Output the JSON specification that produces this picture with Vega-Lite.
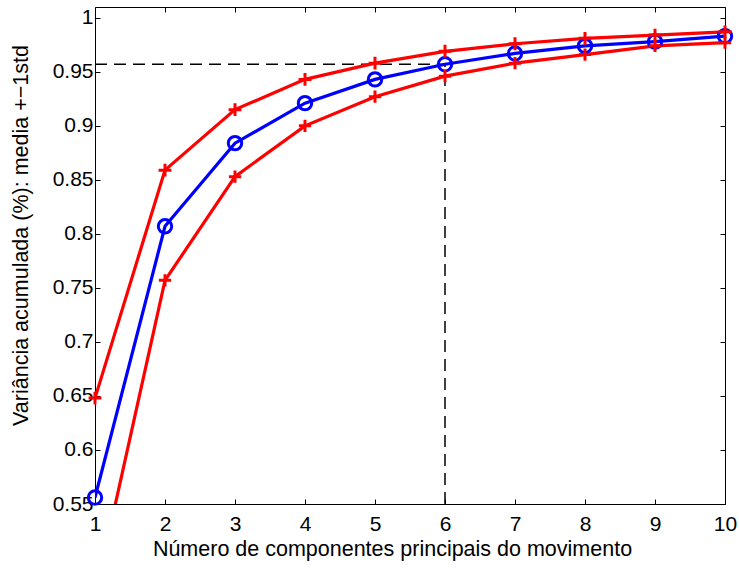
{
  "$schema": "https://vega.github.io/schema/vega-lite/v6.json",
  "width": 630,
  "height": 497,
  "autosize": {"type": "none"},
  "padding": {"left": 95, "top": 7, "right": 14, "bottom": 64},
  "background": "white",
  "config": {
    "font": "Liberation Sans",
    "view": {"stroke": "black", "strokeWidth": 1},
    "axis": {
      "grid": false,
      "domain": false,
      "ticks": true,
      "tickSize": -5,
      "tickColor": "black",
      "tickWidth": 1,
      "labelFont": "Liberation Sans",
      "labelFontSize": 21,
      "labelColor": "black",
      "titleFont": "Liberation Sans",
      "titleFontSize": 21.5,
      "titleFontWeight": "normal",
      "titleColor": "black"
    }
  },
  "datasets": {
    "curvas": [
      {"k": 1, "serie": "media", "valor": 0.556},
      {"k": 2, "serie": "media", "valor": 0.807},
      {"k": 3, "serie": "media", "valor": 0.884},
      {"k": 4, "serie": "media", "valor": 0.921},
      {"k": 5, "serie": "media", "valor": 0.943},
      {"k": 6, "serie": "media", "valor": 0.957},
      {"k": 7, "serie": "media", "valor": 0.967},
      {"k": 8, "serie": "media", "valor": 0.974},
      {"k": 9, "serie": "media", "valor": 0.978},
      {"k": 10, "serie": "media", "valor": 0.983},
      {"k": 1, "serie": "media+std", "valor": 0.648},
      {"k": 2, "serie": "media+std", "valor": 0.859},
      {"k": 3, "serie": "media+std", "valor": 0.915},
      {"k": 4, "serie": "media+std", "valor": 0.943},
      {"k": 5, "serie": "media+std", "valor": 0.958},
      {"k": 6, "serie": "media+std", "valor": 0.969},
      {"k": 7, "serie": "media+std", "valor": 0.976},
      {"k": 8, "serie": "media+std", "valor": 0.981},
      {"k": 9, "serie": "media+std", "valor": 0.984},
      {"k": 10, "serie": "media+std", "valor": 0.987},
      {"k": 1, "serie": "media-std", "valor": 0.465},
      {"k": 2, "serie": "media-std", "valor": 0.757},
      {"k": 3, "serie": "media-std", "valor": 0.853},
      {"k": 4, "serie": "media-std", "valor": 0.900},
      {"k": 5, "serie": "media-std", "valor": 0.927},
      {"k": 6, "serie": "media-std", "valor": 0.946},
      {"k": 7, "serie": "media-std", "valor": 0.958},
      {"k": 8, "serie": "media-std", "valor": 0.966},
      {"k": 9, "serie": "media-std", "valor": 0.974},
      {"k": 10, "serie": "media-std", "valor": 0.977}
    ],
    "guias": [
      {"x0": 1, "x1": 6, "y0": 0.957, "y1": 0.957},
      {"x0": 6, "x1": 6, "y0": 0.55, "y1": 0.957}
    ]
  },
  "resolve": {"axis": {"x": "independent", "y": "independent"}},
  "layer": [
    {
      "data": {"name": "guias"},
      "mark": {"type": "rule", "color": "black", "strokeWidth": 1.5, "strokeDash": [12, 7]},
      "encoding": {
        "x": {"field": "x0", "type": "quantitative", "scale": {"domain": [1, 10], "nice": false, "zero": false}, "axis": null},
        "x2": {"field": "x1"},
        "y": {"field": "y0", "type": "quantitative", "scale": {"domain": [0.55, 1.01], "nice": false, "zero": false}, "axis": null},
        "y2": {"field": "y1"}
      }
    },
    {
      "data": {"name": "curvas"},
      "mark": {"type": "line", "strokeWidth": 3.2, "clip": true},
      "encoding": {
        "x": {
          "field": "k", "type": "quantitative",
          "scale": {"domain": [1, 10], "nice": false, "zero": false},
          "axis": {"orient": "bottom", "values": [1, 2, 3, 4, 5, 6, 7, 8, 9, 10], "format": "d", "labelPadding": 14, "labelFlush": false, "labelOverlap": false,
                   "title": "Número de componentes principais do movimento", "titlePadding": 4, "titleX": 297, "titleAlign": "center"}
        },
        "y": {
          "field": "valor", "type": "quantitative",
          "scale": {"domain": [0.55, 1.01], "nice": false, "zero": false},
          "axis": {"orient": "left", "values": [0.55, 0.6, 0.65, 0.7, 0.75, 0.8, 0.85, 0.9, 0.95, 1], "format": "~g", "labelPadding": 7, "labelFlush": false, "labelOverlap": false,
                   "title": "Variância acumulada (%): media +−1std", "titlePadding": 20, "titleY": 228, "titleAlign": "center"}
        },
        "detail": {"field": "serie"},
        "color": {
          "field": "serie", "type": "nominal",
          "scale": {"domain": ["media", "media+std", "media-std"], "range": ["#0000FF", "#FF0000", "#FF0000"]},
          "legend": null
        }
      }
    },
    {
      "data": {"name": "curvas"},
      "transform": [{"filter": "datum.valor >= 0.55"}],
      "mark": {"type": "point", "filled": false, "strokeWidth": 3, "opacity": 1},
      "encoding": {
        "x": {
          "field": "k", "type": "quantitative",
          "scale": {"domain": [1, 10], "nice": false, "zero": false},
          "axis": {"orient": "top", "values": [1, 2, 3, 4, 5, 6, 7, 8, 9, 10], "labels": false, "title": null}
        },
        "y": {
          "field": "valor", "type": "quantitative",
          "scale": {"domain": [0.55, 1.01], "nice": false, "zero": false},
          "axis": {"orient": "right", "values": [0.55, 0.6, 0.65, 0.7, 0.75, 0.8, 0.85, 0.9, 0.95, 1], "labels": false, "title": null}
        },
        "color": {
          "field": "serie", "type": "nominal",
          "scale": {"domain": ["media", "media+std", "media-std"], "range": ["#0000FF", "#FF0000", "#FF0000"]},
          "legend": null
        },
        "shape": {
          "field": "serie", "type": "nominal",
          "scale": {"domain": ["media", "media+std", "media-std"], "range": ["circle", "M-1,0H1M0,-1V1", "M-1,0H1M0,-1V1"]},
          "legend": null
        },
        "size": {
          "field": "serie", "type": "nominal",
          "scale": {"domain": ["media", "media+std", "media-std"], "range": [180, 150, 150]},
          "legend": null
        }
      }
    }
  ]
}
